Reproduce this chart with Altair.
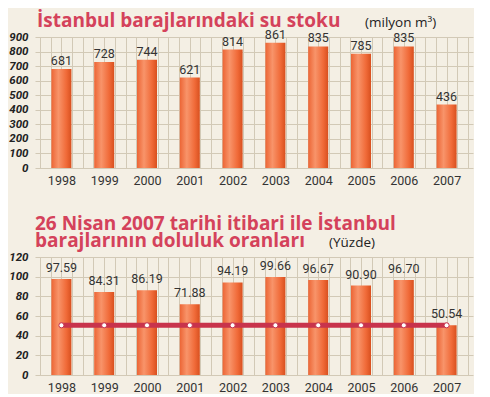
import altair as alt
import pandas as pd

# ---- data ----
years = [1998, 1999, 2000, 2001, 2002, 2003, 2004, 2005, 2006, 2007]
stock = [681, 728, 744, 621, 814, 861, 835, 785, 835, 436]
stock_labels = ["681", "728", "744", "621", "814", "861", "835", "785", "835", "436"]
fill_pct = [97.59, 84.31, 86.19, 71.88, 94.19, 99.66, 96.67, 90.90, 96.70, 50.54]
pct_labels = ["97.59", "84.31", "86.19", "71.88", "94.19", "99.66", "96.67", "90.90", "96.70", "50.54"]
stock_ticks = [0, 100, 200, 300, 400, 500, 600, 700, 800, 900]
pct_ticks = [0, 20, 40, 60, 80, 100, 120]

title1 = "İstanbul barajlarındaki su stoku"
unit1 = "(milyon m³)"
title2a = "26 Nisan 2007 tarihi itibari ile İstanbul"
title2b = "barajlarının doluluk oranları"
unit2 = "(Yüzde)"

# ---- styling ----
W = 438
BG = "#f4efe4"
GRID = "#d2c9b6"
TITLE = "#d4425b"
LINE = "#c8334c"
TXT = "#333333"

bar_fill = alt.Gradient(
    gradient="linear",
    stops=[
        alt.GradientStop(color="#ec6535", offset=0),
        alt.GradientStop(color="#f8946a", offset=0.35),
        alt.GradientStop(color="#f06a38", offset=0.75),
        alt.GradientStop(color="#d8501f", offset=1),
    ],
    x1=0, x2=1, y1=0, y2=0,
)

xgrid = [years[0] - 0.5 + 0.25 * k for k in range(4 * len(years) + 1)]
x_scale = alt.Scale(domain=[years[0] - 0.5, years[-1] + 0.5], nice=False, zero=False)


def x_axis():
    return alt.Axis(
        values=xgrid,
        labelExpr="datum.value == floor(datum.value) ? format(datum.value, 'd') : ''",
        grid=True, gridColor=GRID, gridWidth=1,
        ticks=False, domain=False, labelPadding=6,
        labelFont="Roboto", labelFontSize=12.5, labelColor=TXT,
        labelOverlap=False, labelFlush=False, title=None,
    )


def y_axis(vals):
    return alt.Axis(
        values=vals, format="d",
        grid=True, gridColor=GRID, gridWidth=1,
        ticks=False, domain=False, labelPadding=7,
        labelFont="Roboto", labelFontStyle="italic", labelFontWeight="bold",
        labelFontSize=11.5, labelColor="#222222", title=None,
        labelOverlap=False, labelFlush=False,
    )


def text_chart(txt, x, y, size, color, bold):
    kw = dict(align="left", baseline="alphabetic", font="Open Sans",
              fontSize=size, color=color)
    if bold:
        kw["fontWeight"] = "bold"
    return alt.Chart(pd.DataFrame({"t": [txt]})).mark_text(**kw).encode(
        x=alt.value(x), y=alt.value(y), text="t:N"
    )


# ---- title panel 1 ----
panelA = alt.layer(
    text_chart(title1, 2, 18, 19, TITLE, True),
    text_chart(unit1, 330, 18, 13.5, "#222222", False),
).properties(width=W, height=28)

# ---- top chart ----
df1 = pd.DataFrame({"year": years, "value": stock, "label": stock_labels})
y1 = alt.Y("value:Q", scale=alt.Scale(domain=[0, 900], nice=False), axis=y_axis(stock_ticks))
base1 = alt.Chart(df1).encode(x=alt.X("year:Q", scale=x_scale, axis=x_axis()), y=y1)
bars1 = base1.mark_bar(size=20, color=bar_fill)
text1 = base1.mark_text(baseline="alphabetic", dy=-4, font="Roboto", fontSize=12.5, color=TXT).encode(
    text="label:N"
)
top = alt.layer(bars1, text1).properties(width=W, height=131)

# ---- title panel 2 ----
panelC = alt.layer(
    text_chart(title2a, 0, 62, 19, TITLE, True),
    text_chart(title2b, 0, 79, 19, TITLE, True),
    text_chart(unit2, 294, 79, 13.5, "#222222", False),
).properties(width=W, height=89)

# ---- bottom chart ----
df2 = pd.DataFrame({
    "year": years, "value": fill_pct, "label": pct_labels,
    "ref": [fill_pct[-1]] * len(years),
})
yscale2 = alt.Scale(domain=[0, 120], nice=False)
base2 = alt.Chart(df2).encode(x=alt.X("year:Q", scale=x_scale, axis=x_axis()))
bars2 = base2.mark_bar(size=20, color=bar_fill).encode(
    y=alt.Y("value:Q", scale=yscale2, axis=y_axis(pct_ticks))
)
line2 = base2.mark_line(color=LINE, strokeWidth=5, strokeCap="round").encode(
    y=alt.Y("ref:Q", scale=yscale2, axis=y_axis(pct_ticks))
)
pts2 = base2.mark_circle(color="white", stroke=LINE, strokeWidth=1, size=26, opacity=1).encode(
    y=alt.Y("ref:Q", scale=yscale2, axis=y_axis(pct_ticks))
)
text2 = base2.mark_text(baseline="alphabetic", dy=-7, font="Roboto", fontSize=12.5, color=TXT).encode(
    y=alt.Y("value:Q", scale=yscale2, axis=y_axis(pct_ticks)), text="label:N"
)
bottom = alt.layer(bars2, line2, pts2, text2).properties(width=W, height=118)

chart = alt.vconcat(panelA, top, panelC, bottom, spacing=0, bounds="flush").properties(
    background=BG, padding=0
).configure_view(stroke="transparent")

chart.save("out.html", embed_options={"renderer": "svg", "actions": False})
